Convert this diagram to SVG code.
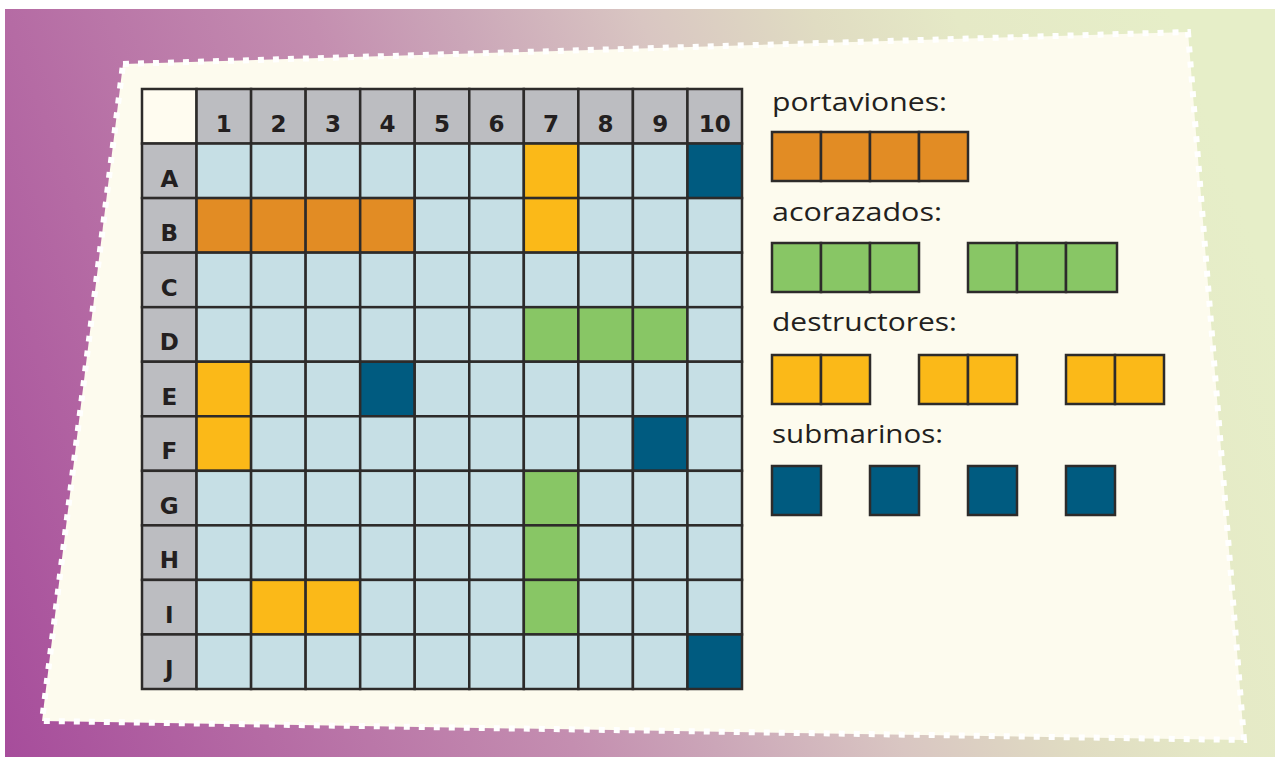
<svg xmlns="http://www.w3.org/2000/svg" width="1275" height="757" viewBox="0 0 1275 757">
<defs>
<linearGradient id="bg" gradientUnits="userSpaceOnUse" x1="0" y1="757" x2="1275" y2="300">
<stop offset="0" stop-color="#a64c9b"/>
<stop offset="0.19" stop-color="#b56ba4"/>
<stop offset="0.4" stop-color="#c48eb0"/>
<stop offset="0.5" stop-color="#cba6b8"/>
<stop offset="0.63" stop-color="#d9c6c2"/>
<stop offset="0.75" stop-color="#e0dcc2"/>
<stop offset="0.85" stop-color="#e5e9c6"/>
<stop offset="1" stop-color="#e6eec8"/>
</linearGradient>
<style>
.c{stroke:#2d2b2a;stroke-width:2.5}
.w{fill:#c6dfe5}.g{fill:#bcbdc1}.o{fill:#e28c24}.y{fill:#fbb918}.gr{fill:#88c665}.b{fill:#005b80}
.h{font-family:"DejaVu Sans","Liberation Sans",sans-serif;font-weight:bold;font-size:23px;fill:#231f20;text-anchor:middle}
.l{font-family:"Open Sans","Liberation Sans",sans-serif;font-size:25px;fill:#231f20}
</style>
</defs>
<rect x="5" y="9" width="1270" height="748" fill="url(#bg)"/>
<polygon points="123,64 1188,32 1244,740 42,721" fill="#fdfbee" stroke="#ffffff" stroke-width="6" stroke-dasharray="6 9"/>

<g id="grid">
<rect class="c" x="142" y="89" width="54.55" height="54.55" fill="#fffcf0"/>
<g id="header">
<rect class="c g" x="196.55" y="89" width="54.55" height="54.55"/>
<rect class="c g" x="251.09" y="89" width="54.55" height="54.55"/>
<rect class="c g" x="305.64" y="89" width="54.55" height="54.55"/>
<rect class="c g" x="360.18" y="89" width="54.55" height="54.55"/>
<rect class="c g" x="414.73" y="89" width="54.55" height="54.55"/>
<rect class="c g" x="469.27" y="89" width="54.55" height="54.55"/>
<rect class="c g" x="523.82" y="89" width="54.55" height="54.55"/>
<rect class="c g" x="578.36" y="89" width="54.55" height="54.55"/>
<rect class="c g" x="632.91" y="89" width="54.55" height="54.55"/>
<rect class="c g" x="687.45" y="89" width="54.55" height="54.55"/>
<text class="h" x="223.8" y="132">1</text>
<text class="h" x="278.4" y="132">2</text>
<text class="h" x="332.9" y="132">3</text>
<text class="h" x="387.5" y="132">4</text>
<text class="h" x="442" y="132">5</text>
<text class="h" x="496.5" y="132">6</text>
<text class="h" x="551.1" y="132">7</text>
<text class="h" x="605.6" y="132">8</text>
<text class="h" x="660.2" y="132">9</text>
<text class="h" x="714.7" y="132">10</text>
</g>
<g id="rowlabels">
<rect class="c g" x="142" y="143.55" width="54.55" height="54.55"/>
<rect class="c g" x="142" y="198.09" width="54.55" height="54.55"/>
<rect class="c g" x="142" y="252.64" width="54.55" height="54.55"/>
<rect class="c g" x="142" y="307.18" width="54.55" height="54.55"/>
<rect class="c g" x="142" y="361.73" width="54.55" height="54.55"/>
<rect class="c g" x="142" y="416.27" width="54.55" height="54.55"/>
<rect class="c g" x="142" y="470.82" width="54.55" height="54.55"/>
<rect class="c g" x="142" y="525.36" width="54.55" height="54.55"/>
<rect class="c g" x="142" y="579.91" width="54.55" height="54.55"/>
<rect class="c g" x="142" y="634.45" width="54.55" height="54.55"/>
<text class="h" x="169.3" y="186.5">A</text>
<text class="h" x="169.3" y="241">B</text>
<text class="h" x="169.3" y="295.6">C</text>
<text class="h" x="169.3" y="350.1">D</text>
<text class="h" x="169.3" y="404.7">E</text>
<text class="h" x="169.3" y="459.2">F</text>
<text class="h" x="169.3" y="513.8">G</text>
<text class="h" x="169.3" y="568.3">H</text>
<text class="h" x="169.3" y="622.9">I</text>
<text class="h" x="169.3" y="677.4">J</text>
</g>
<g id="cells">
<!-- A -->
<rect class="c w" x="196.55" y="143.55" width="54.55" height="54.55"/><rect class="c w" x="251.09" y="143.55" width="54.55" height="54.55"/><rect class="c w" x="305.64" y="143.55" width="54.55" height="54.55"/><rect class="c w" x="360.18" y="143.55" width="54.55" height="54.55"/><rect class="c w" x="414.73" y="143.55" width="54.55" height="54.55"/><rect class="c w" x="469.27" y="143.55" width="54.55" height="54.55"/><rect class="c y" x="523.82" y="143.55" width="54.55" height="54.55"/><rect class="c w" x="578.36" y="143.55" width="54.55" height="54.55"/><rect class="c w" x="632.91" y="143.55" width="54.55" height="54.55"/><rect class="c b" x="687.45" y="143.55" width="54.55" height="54.55"/>
<!-- B -->
<rect class="c o" x="196.55" y="198.09" width="54.55" height="54.55"/><rect class="c o" x="251.09" y="198.09" width="54.55" height="54.55"/><rect class="c o" x="305.64" y="198.09" width="54.55" height="54.55"/><rect class="c o" x="360.18" y="198.09" width="54.55" height="54.55"/><rect class="c w" x="414.73" y="198.09" width="54.55" height="54.55"/><rect class="c w" x="469.27" y="198.09" width="54.55" height="54.55"/><rect class="c y" x="523.82" y="198.09" width="54.55" height="54.55"/><rect class="c w" x="578.36" y="198.09" width="54.55" height="54.55"/><rect class="c w" x="632.91" y="198.09" width="54.55" height="54.55"/><rect class="c w" x="687.45" y="198.09" width="54.55" height="54.55"/>
<!-- C -->
<rect class="c w" x="196.55" y="252.64" width="54.55" height="54.55"/><rect class="c w" x="251.09" y="252.64" width="54.55" height="54.55"/><rect class="c w" x="305.64" y="252.64" width="54.55" height="54.55"/><rect class="c w" x="360.18" y="252.64" width="54.55" height="54.55"/><rect class="c w" x="414.73" y="252.64" width="54.55" height="54.55"/><rect class="c w" x="469.27" y="252.64" width="54.55" height="54.55"/><rect class="c w" x="523.82" y="252.64" width="54.55" height="54.55"/><rect class="c w" x="578.36" y="252.64" width="54.55" height="54.55"/><rect class="c w" x="632.91" y="252.64" width="54.55" height="54.55"/><rect class="c w" x="687.45" y="252.64" width="54.55" height="54.55"/>
<!-- D -->
<rect class="c w" x="196.55" y="307.18" width="54.55" height="54.55"/><rect class="c w" x="251.09" y="307.18" width="54.55" height="54.55"/><rect class="c w" x="305.64" y="307.18" width="54.55" height="54.55"/><rect class="c w" x="360.18" y="307.18" width="54.55" height="54.55"/><rect class="c w" x="414.73" y="307.18" width="54.55" height="54.55"/><rect class="c w" x="469.27" y="307.18" width="54.55" height="54.55"/><rect class="c gr" x="523.82" y="307.18" width="54.55" height="54.55"/><rect class="c gr" x="578.36" y="307.18" width="54.55" height="54.55"/><rect class="c gr" x="632.91" y="307.18" width="54.55" height="54.55"/><rect class="c w" x="687.45" y="307.18" width="54.55" height="54.55"/>
<!-- E -->
<rect class="c y" x="196.55" y="361.73" width="54.55" height="54.55"/><rect class="c w" x="251.09" y="361.73" width="54.55" height="54.55"/><rect class="c w" x="305.64" y="361.73" width="54.55" height="54.55"/><rect class="c b" x="360.18" y="361.73" width="54.55" height="54.55"/><rect class="c w" x="414.73" y="361.73" width="54.55" height="54.55"/><rect class="c w" x="469.27" y="361.73" width="54.55" height="54.55"/><rect class="c w" x="523.82" y="361.73" width="54.55" height="54.55"/><rect class="c w" x="578.36" y="361.73" width="54.55" height="54.55"/><rect class="c w" x="632.91" y="361.73" width="54.55" height="54.55"/><rect class="c w" x="687.45" y="361.73" width="54.55" height="54.55"/>
<!-- F -->
<rect class="c y" x="196.55" y="416.27" width="54.55" height="54.55"/><rect class="c w" x="251.09" y="416.27" width="54.55" height="54.55"/><rect class="c w" x="305.64" y="416.27" width="54.55" height="54.55"/><rect class="c w" x="360.18" y="416.27" width="54.55" height="54.55"/><rect class="c w" x="414.73" y="416.27" width="54.55" height="54.55"/><rect class="c w" x="469.27" y="416.27" width="54.55" height="54.55"/><rect class="c w" x="523.82" y="416.27" width="54.55" height="54.55"/><rect class="c w" x="578.36" y="416.27" width="54.55" height="54.55"/><rect class="c b" x="632.91" y="416.27" width="54.55" height="54.55"/><rect class="c w" x="687.45" y="416.27" width="54.55" height="54.55"/>
<!-- G -->
<rect class="c w" x="196.55" y="470.82" width="54.55" height="54.55"/><rect class="c w" x="251.09" y="470.82" width="54.55" height="54.55"/><rect class="c w" x="305.64" y="470.82" width="54.55" height="54.55"/><rect class="c w" x="360.18" y="470.82" width="54.55" height="54.55"/><rect class="c w" x="414.73" y="470.82" width="54.55" height="54.55"/><rect class="c w" x="469.27" y="470.82" width="54.55" height="54.55"/><rect class="c gr" x="523.82" y="470.82" width="54.55" height="54.55"/><rect class="c w" x="578.36" y="470.82" width="54.55" height="54.55"/><rect class="c w" x="632.91" y="470.82" width="54.55" height="54.55"/><rect class="c w" x="687.45" y="470.82" width="54.55" height="54.55"/>
<!-- H -->
<rect class="c w" x="196.55" y="525.36" width="54.55" height="54.55"/><rect class="c w" x="251.09" y="525.36" width="54.55" height="54.55"/><rect class="c w" x="305.64" y="525.36" width="54.55" height="54.55"/><rect class="c w" x="360.18" y="525.36" width="54.55" height="54.55"/><rect class="c w" x="414.73" y="525.36" width="54.55" height="54.55"/><rect class="c w" x="469.27" y="525.36" width="54.55" height="54.55"/><rect class="c gr" x="523.82" y="525.36" width="54.55" height="54.55"/><rect class="c w" x="578.36" y="525.36" width="54.55" height="54.55"/><rect class="c w" x="632.91" y="525.36" width="54.55" height="54.55"/><rect class="c w" x="687.45" y="525.36" width="54.55" height="54.55"/>
<!-- I -->
<rect class="c w" x="196.55" y="579.91" width="54.55" height="54.55"/><rect class="c y" x="251.09" y="579.91" width="54.55" height="54.55"/><rect class="c y" x="305.64" y="579.91" width="54.55" height="54.55"/><rect class="c w" x="360.18" y="579.91" width="54.55" height="54.55"/><rect class="c w" x="414.73" y="579.91" width="54.55" height="54.55"/><rect class="c w" x="469.27" y="579.91" width="54.55" height="54.55"/><rect class="c gr" x="523.82" y="579.91" width="54.55" height="54.55"/><rect class="c w" x="578.36" y="579.91" width="54.55" height="54.55"/><rect class="c w" x="632.91" y="579.91" width="54.55" height="54.55"/><rect class="c w" x="687.45" y="579.91" width="54.55" height="54.55"/>
<!-- J -->
<rect class="c w" x="196.55" y="634.45" width="54.55" height="54.55"/><rect class="c w" x="251.09" y="634.45" width="54.55" height="54.55"/><rect class="c w" x="305.64" y="634.45" width="54.55" height="54.55"/><rect class="c w" x="360.18" y="634.45" width="54.55" height="54.55"/><rect class="c w" x="414.73" y="634.45" width="54.55" height="54.55"/><rect class="c w" x="469.27" y="634.45" width="54.55" height="54.55"/><rect class="c w" x="523.82" y="634.45" width="54.55" height="54.55"/><rect class="c w" x="578.36" y="634.45" width="54.55" height="54.55"/><rect class="c w" x="632.91" y="634.45" width="54.55" height="54.55"/><rect class="c b" x="687.45" y="634.45" width="54.55" height="54.55"/>
</g>
</g>

<g id="legend-portaviones">
<text class="l" x="772" y="111" textLength="175" lengthAdjust="spacingAndGlyphs">portaviones:</text>
<rect class="c o" x="772" y="132" width="49" height="49"/><rect class="c o" x="821" y="132" width="49" height="49"/><rect class="c o" x="870" y="132" width="49" height="49"/><rect class="c o" x="919" y="132" width="49" height="49"/>
</g>
<g id="legend-acorazados">
<text class="l" x="772" y="221" textLength="170" lengthAdjust="spacingAndGlyphs">acorazados:</text>
<rect class="c gr" x="772" y="243" width="49" height="49"/><rect class="c gr" x="821" y="243" width="49" height="49"/><rect class="c gr" x="870" y="243" width="49" height="49"/>
<rect class="c gr" x="968" y="243" width="49" height="49"/><rect class="c gr" x="1017" y="243" width="49" height="49"/><rect class="c gr" x="1066" y="243" width="51" height="49"/>
</g>
<g id="legend-destructores">
<text class="l" x="772" y="331" textLength="185" lengthAdjust="spacingAndGlyphs">destructores:</text>
<rect class="c y" x="772" y="355" width="49" height="49"/><rect class="c y" x="821" y="355" width="49" height="49"/>
<rect class="c y" x="919" y="355" width="49" height="49"/><rect class="c y" x="968" y="355" width="49" height="49"/>
<rect class="c y" x="1066" y="355" width="49" height="49"/><rect class="c y" x="1115" y="355" width="49" height="49"/>
</g>
<g id="legend-submarinos">
<text class="l" x="772" y="443" textLength="171" lengthAdjust="spacingAndGlyphs">submarinos:</text>
<rect class="c b" x="772" y="466" width="49" height="49"/>
<rect class="c b" x="870" y="466" width="49" height="49"/>
<rect class="c b" x="968" y="466" width="49" height="49"/>
<rect class="c b" x="1066" y="466" width="49" height="49"/>
</g>
<g id="connectors"/>
</svg>
